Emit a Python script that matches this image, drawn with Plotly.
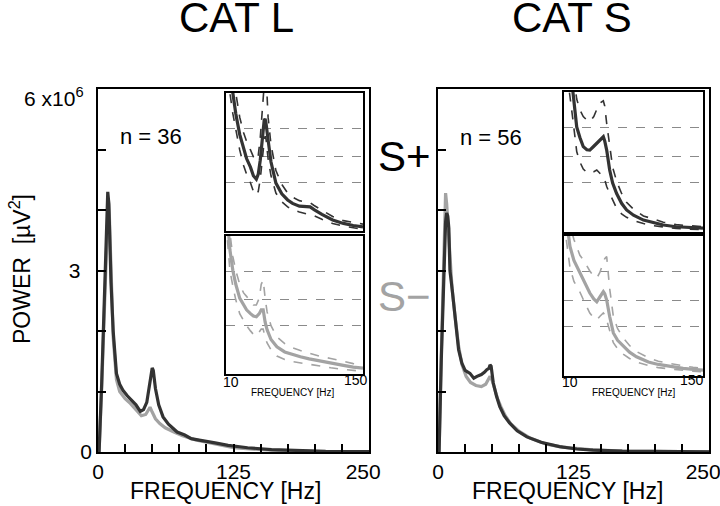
import plotly.graph_objects as go

# ---------------- data (power in units of 10^6 uV^2) ----------------
L_SP_F = [0, 1, 3.4, 6.5, 9, 10, 11, 12, 14, 17, 20, 23, 27, 31, 35, 39, 42, 45, 47, 49, 50, 51, 53, 56, 60, 65, 73, 80, 86, 92, 100, 108, 120, 138, 160, 185, 210, 250]
L_SP_V = [0, 0, 1.14, 2.8, 4.3, 4.1, 3.3, 2.8, 2.0, 1.3, 1.12, 1.02, 0.93, 0.86, 0.78, 0.67, 0.7, 0.82, 1.05, 1.3, 1.39, 1.35, 1.05, 0.78, 0.58, 0.46, 0.33, 0.28, 0.22, 0.2, 0.17, 0.15, 0.11, 0.07, 0.04, 0.02, 0.01, 0.005]
L_SM_F = [0, 1, 3.5, 6.5, 9.5, 10.5, 12, 14, 17, 20, 25, 30, 35, 40, 44, 47, 48, 50, 53, 57, 62, 70, 78, 90, 100, 110, 125, 140, 160, 200, 250]
L_SM_V = [0, 0, 1.1, 2.7, 4.2, 3.9, 2.9, 1.9, 1.2, 1.0, 0.88, 0.8, 0.7, 0.6, 0.62, 0.7, 0.74, 0.66, 0.55, 0.47, 0.4, 0.33, 0.27, 0.2, 0.16, 0.12, 0.07, 0.05, 0.03, 0.01, 0.005]
S_SP_F = [0, 1, 3, 5, 7, 8, 9, 10, 11, 13, 15.7, 19, 22, 25, 29.5, 33, 36, 40, 43, 45, 47, 48, 49, 51, 54, 57, 61, 66, 73, 82, 95, 112, 128, 143, 170, 200, 250]
S_SP_V = [0, 0, 1.5, 2.9, 3.8, 3.95, 3.9, 3.7, 3.0, 2.7, 2.24, 1.69, 1.47, 1.35, 1.3, 1.22, 1.25, 1.28, 1.32, 1.36, 1.38, 1.44, 1.42, 1.14, 0.92, 0.75, 0.6, 0.48, 0.35, 0.25, 0.16, 0.09, 0.05, 0.03, 0.015, 0.008, 0.003]
S_SM_F = [0, 1, 3, 5, 7, 8, 9, 10, 11, 13, 16, 19, 22, 26, 30, 35, 40, 44, 47, 48, 50, 52, 55, 58, 62, 67, 75, 85, 100, 115, 140, 170, 250]
S_SM_V = [0, 0, 1.6, 3.2, 4.28, 4.1, 3.8, 3.6, 3.1, 2.7, 2.2, 1.75, 1.45, 1.25, 1.15, 1.1, 1.08, 1.12, 1.22, 1.25, 1.18, 1.05, 0.88, 0.75, 0.6, 0.47, 0.34, 0.23, 0.13, 0.08, 0.04, 0.015, 0.003]

# insets (10-150 Hz, relative power): mean and dashed confidence limits
TL_F = [10, 13, 17, 20, 24, 28, 31, 35, 38, 41, 43, 45, 47, 49, 50, 51, 53, 56, 61, 67, 73, 78, 85, 92, 96, 100, 108, 119, 130, 140, 150]
TL_M = [6, 5, 4.0, 3.4, 2.8, 2.35, 2.1, 1.85, 1.6, 1.5, 1.65, 2.05, 2.7, 3.2, 3.25, 3.1, 2.64, 2.0, 1.39, 1.08, 0.9, 0.8, 0.72, 0.7, 0.7, 0.62, 0.48, 0.32, 0.22, 0.16, 0.12]
TL_U = [7, 6, 4.6, 4.0, 3.3, 2.85, 2.6, 2.35, 2.15, 2.05, 2.2, 2.7, 3.6, 4.4, 4.6, 4.5, 3.3, 2.5, 1.75, 1.35, 1.1, 0.98, 0.88, 0.84, 0.82, 0.74, 0.6, 0.42, 0.3, 0.24, 0.2]
TL_L = [5, 4.2, 3.4, 2.9, 2.35, 1.9, 1.65, 1.4, 1.15, 1.04, 1.15, 1.5, 2.1, 2.6, 2.75, 2.65, 2.1, 1.6, 1.1, 0.85, 0.7, 0.62, 0.55, 0.5, 0.48, 0.44, 0.34, 0.22, 0.14, 0.09, 0.05]

BL_F = [10, 14, 17, 20, 24, 28, 31, 35, 38, 41, 44, 46, 48, 50, 52, 56, 62, 70, 78, 86, 95, 105, 117, 130, 140, 150]
BL_M = [5, 3.6, 3.0, 2.6, 2.2, 1.98, 1.86, 1.75, 1.68, 1.66, 1.75, 1.86, 1.86, 1.5, 1.28, 1.0, 0.79, 0.64, 0.56, 0.5, 0.44, 0.38, 0.32, 0.25, 0.2, 0.17]
BL_U = [5.5, 4.1, 3.4, 3.0, 2.6, 2.35, 2.25, 2.1, 2.0, 2.0, 2.2, 2.6, 2.72, 2.2, 1.8, 1.4, 1.08, 0.88, 0.76, 0.68, 0.6, 0.52, 0.45, 0.36, 0.3, 0.26]
BL_L = [4.4, 3.0, 2.55, 2.15, 1.75, 1.55, 1.4, 1.25, 1.15, 1.1, 1.2, 1.3, 1.3, 1.05, 0.9, 0.7, 0.52, 0.42, 0.36, 0.32, 0.28, 0.23, 0.18, 0.13, 0.1, 0.08]

TR_F = [10, 15, 19, 22.8, 26, 29.4, 33, 36, 40, 43, 47, 49.6, 51, 53, 56, 59, 63, 68, 73, 80, 90, 100, 110, 123, 135, 150]
TR_M = [6, 5, 4.0, 3.0, 2.7, 2.44, 2.35, 2.34, 2.45, 2.54, 2.65, 2.72, 2.6, 2.34, 1.77, 1.4, 1.1, 0.82, 0.63, 0.48, 0.34, 0.26, 0.2, 0.15, 0.13, 0.11]
TR_U = [7, 5.8, 4.6, 3.8, 3.49, 3.3, 3.2, 3.15, 3.3, 3.5, 3.7, 3.75, 3.6, 3.1, 2.4, 1.85, 1.45, 1.1, 0.85, 0.65, 0.46, 0.36, 0.28, 0.21, 0.18, 0.15]
TR_L = [5, 4.1, 3.2, 2.3, 2.0, 1.8, 1.7, 1.68, 1.72, 1.77, 1.65, 1.6, 1.5, 1.3, 1.1, 0.9, 0.68, 0.52, 0.42, 0.33, 0.24, 0.18, 0.14, 0.1, 0.08, 0.07]

BR_F = [10, 13, 16, 20, 26, 30, 36, 40, 43, 46, 49.6, 51, 53, 56, 59.7, 64, 70, 76, 83, 95, 105, 117, 130, 140, 150]
BR_M = [5, 4.3, 3.7, 3.3, 2.94, 2.7, 2.37, 2.2, 2.12, 2.25, 2.41, 2.35, 2.17, 1.7, 1.23, 1.02, 0.84, 0.68, 0.55, 0.4, 0.33, 0.27, 0.22, 0.19, 0.17]
BR_U = [5.6, 4.9, 4.3, 3.9, 3.45, 3.3, 3.0, 2.85, 2.8, 2.95, 3.2, 3.35, 3.41, 2.5, 1.7, 1.35, 1.08, 0.87, 0.7, 0.52, 0.42, 0.35, 0.29, 0.25, 0.22]
BR_L = [4.4, 3.7, 3.1, 2.7, 2.4, 2.15, 1.8, 1.65, 1.6, 1.7, 1.8, 1.75, 1.6, 1.3, 0.95, 0.78, 0.62, 0.5, 0.4, 0.3, 0.24, 0.2, 0.16, 0.14, 0.12]

X_TICKS = [0, 25, 50, 75, 100, 125, 150, 175, 200, 225, 250]
X_TICKTEXT = ["0", "", "", "", "", "125", "", "", "", "", "250\u00a0\u00a0"]
Y_TICKS = [0, 1, 2, 3, 4, 5, 6]
Y_TICKTEXT = ["0", "", "", "3\u00a0\u00a0", "", "", ""]
INSET_GRID = [1.42, 2.17, 2.98]

DARK = "#333333"
GRAY = "#a3a3a3"
FONT = "Liberation Sans, Arial, sans-serif"

W, H = 720, 506
def px(x): return x / W
def py(y): return 1 - y / H

fig = go.Figure()

def line(xs, ys, color, ax, width=3.2, dash=None):
    fig.add_trace(go.Scatter(x=xs, y=ys, mode="lines", xaxis="x" + ax, yaxis="y" + ax,
                             line=dict(color=color, width=width, dash=dash), showlegend=False,
                             hoverinfo="skip"))

# main panels: gray (S-) first, dark (S+) on top
line(L_SM_F, L_SM_V, GRAY, "")
line(L_SP_F, L_SP_V, DARK, "")
line(S_SM_F, S_SM_V, GRAY, "2")
line(S_SP_F, S_SP_V, DARK, "2")

# insets
for ax, f, m, u, l, c in [("3", TL_F, TL_M, TL_U, TL_L, DARK), ("4", BL_F, BL_M, BL_U, BL_L, GRAY),
                          ("5", TR_F, TR_M, TR_U, TR_L, DARK), ("6", BR_F, BR_M, BR_U, BR_L, GRAY)]:
    line(f, u, c, ax, width=1.6, dash="dash")
    line(f, l, c, ax, width=1.6, dash="dash")
    line(f, m, c, ax, width=3.2)

main_x = dict(range=[0, 250], tickvals=X_TICKS, ticktext=X_TICKTEXT, ticks="inside", ticklen=8,
              tickwidth=1.5, tickcolor="black", showline=True, mirror=True, linecolor="black",
              linewidth=1.5, showgrid=False, zeroline=False, automargin=False,
              ticklabeloverflow="allow",
              tickfont=dict(size=21, family=FONT, color="black"))
main_y = dict(range=[0, 6], tickvals=Y_TICKS, ticktext=Y_TICKTEXT, ticks="inside", ticklen=8,
              tickwidth=1.5, tickcolor="black", showline=True, mirror=True, linecolor="black",
              linewidth=1.5, showgrid=False, zeroline=False, automargin=False,
              ticklabeloverflow="allow",
              tickfont=dict(size=21, family=FONT, color="black"))
inset_x = dict(range=[10, 150], showticklabels=False, ticks="", showline=True, mirror=True,
               linecolor="black", linewidth=1.5, showgrid=False, zeroline=False, automargin=False)
inset_y = dict(range=[0, 4], tickvals=INSET_GRID, showticklabels=False, ticks="", showline=True,
               mirror=True, linecolor="black", linewidth=1.5, showgrid=True, gridcolor="#8a8a8a",
               griddash="dash", gridwidth=1, zeroline=False, automargin=False)

fig.update_layout(
    width=W, height=H, margin=dict(l=0, r=0, t=0, b=0, autoexpand=False),
    paper_bgcolor="white", plot_bgcolor="white", showlegend=False,
    font=dict(family=FONT, color="black"),
    xaxis=dict(main_x, domain=[px(98), px(369)], anchor="y"),
    yaxis=dict(main_y, domain=[py(452), py(89)], anchor="x"),
    xaxis2=dict(main_x, domain=[px(438), px(709)], anchor="y2"),
    yaxis2=dict(main_y, domain=[py(452), py(89)], anchor="x2", showticklabels=False),
    xaxis3=dict(inset_x, domain=[px(226), px(363)], anchor="y3"),
    yaxis3=dict(inset_y, domain=[py(231), py(93)], anchor="x3"),
    xaxis4=dict(inset_x, domain=[px(226), px(363)], anchor="y4"),
    yaxis4=dict(inset_y, domain=[py(374), py(236)], anchor="x4"),
    xaxis5=dict(inset_x, domain=[px(564), px(703)], anchor="y5"),
    yaxis5=dict(inset_y, domain=[py(232), py(92)], anchor="x5"),
    xaxis6=dict(inset_x, domain=[px(564), px(703)], anchor="y6"),
    yaxis6=dict(inset_y, domain=[py(376), py(236)], anchor="x6"),
)

def ann(text, x, y, size, color="black", xanchor="center", yanchor="middle", angle=0):
    fig.add_annotation(text=text, x=px(x), y=py(y), xref="paper", yref="paper", showarrow=False,
                       xanchor=xanchor, yanchor=yanchor, textangle=angle,
                       font=dict(size=size, color=color, family=FONT))

ann("CAT L", 236, 17, 42)
ann("CAT S", 572, 17, 42)
ann("S+", 404, 156, 42)
ann("S−", 404, 296, 42, color=GRAY)
ann("n = 36", 151, 136, 22)
ann("n = 56", 491, 137, 22)
ann("6 x10<sup>6</sup>", 86, 97, 21, xanchor="right")
ann("POWER  [µV<sup>2</sup>]", 20, 269, 23, angle=-90)
ann("FREQUENCY [Hz]", 225, 491, 23)
ann("FREQUENCY [Hz]", 567, 491, 23)
for x10, x150, xf in [(231, 356, 292), (570, 692, 633)]:
    ann("10", x10, 382, 14)
    ann("150", x150, 380, 14)
    ann("FREQUENCY [Hz]", xf, 392, 10)

fig.write_html("out.html", config={"displayModeBar": False},
               post_script="document.body.style.margin='0';document.body.style.overflow='hidden';")
